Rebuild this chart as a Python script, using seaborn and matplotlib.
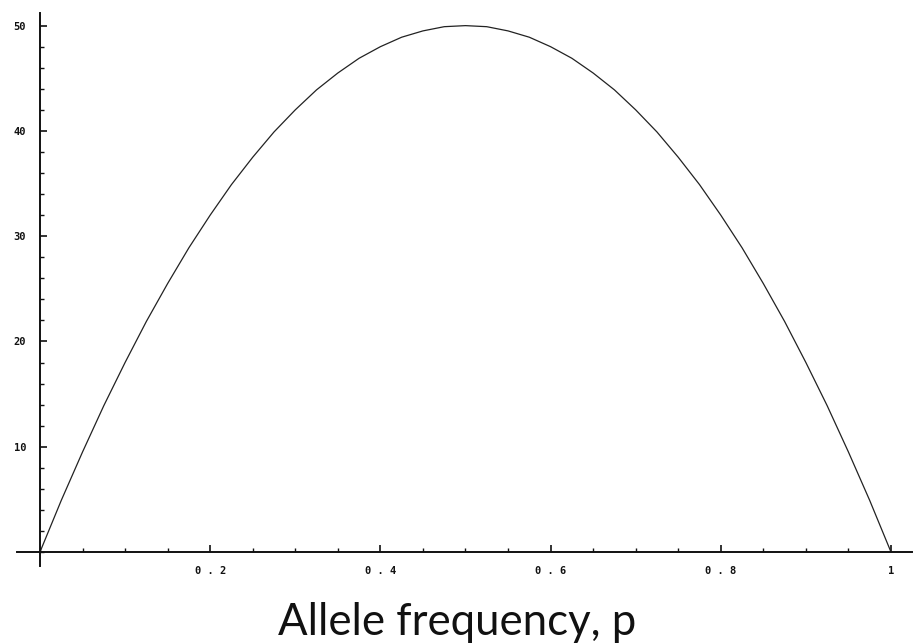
import matplotlib
matplotlib.use("Agg")
import matplotlib.pyplot as plt
import seaborn as sns
import pandas as pd
from matplotlib.ticker import MultipleLocator

# values
allele_freq = [0.0, 0.025, 0.05, 0.075, 0.10, 0.125, 0.15, 0.175, 0.20, 0.225,
               0.25, 0.275, 0.30, 0.325, 0.35, 0.375, 0.40, 0.425, 0.45, 0.475,
               0.50, 0.525, 0.55, 0.575, 0.60, 0.625, 0.65, 0.675, 0.70, 0.725,
               0.75, 0.775, 0.80, 0.825, 0.85, 0.875, 0.90, 0.925, 0.95, 0.975, 1.0]
y_values = [0.0, 4.9, 9.5, 13.9, 18.0, 21.9, 25.5, 28.9, 32.0, 34.9,
            37.5, 39.9, 42.0, 43.9, 45.5, 46.9, 48.0, 48.9, 49.5, 49.9,
            50.0, 49.9, 49.5, 48.9, 48.0, 46.9, 45.5, 43.9, 42.0, 39.9,
            37.5, 34.9, 32.0, 28.9, 25.5, 21.9, 18.0, 13.9, 9.5, 4.9, 0.0]
x_ticks = [0.2, 0.4, 0.6, 0.8, 1.0]
x_tick_labels = ["0.2", "0.4", "0.6", "0.8", "1"]
y_ticks = [10, 20, 30, 40, 50]

df = pd.DataFrame({"p": allele_freq, "y": y_values})

sns.set_style("white")
fig = plt.figure(figsize=(9.15, 6.44), dpi=100)
ax = fig.add_axes([17 / 915, 78 / 644, 895 / 915, 553 / 644])

sns.lineplot(data=df, x="p", y="y", ax=ax, color="#222222", linewidth=0.9)

ax.set_xlim(-0.027, 1.0247)
ax.set_ylim(-1.33, 51.2)

# Mathematica-like axes crossing at origin
ax.spines["left"].set_position(("data", 0))
ax.spines["bottom"].set_position(("data", 0))
ax.spines["top"].set_visible(False)
ax.spines["right"].set_visible(False)
for s in ("left", "bottom"):
    ax.spines[s].set_linewidth(1.4)
    ax.spines[s].set_color("#111111")

ax.set_xticks(x_ticks)
ax.set_xticklabels([" . ".join(t.split(".")) if "." in t else t for t in x_tick_labels])
ax.set_yticks(y_ticks)
ax.xaxis.set_minor_locator(MultipleLocator(0.05))
ax.yaxis.set_minor_locator(MultipleLocator(2))
ax.tick_params(axis="both", which="both", bottom=True, left=True)
ax.tick_params(axis="both", which="major", direction="in", length=5, width=1.2,
               labelsize=7.5, colors="#111111", pad=10)
ax.tick_params(axis="both", which="minor", direction="in", length=3, width=1.0,
               colors="#111111")
for lab in ax.get_xticklabels() + ax.get_yticklabels():
    lab.set_fontfamily("DejaVu Sans Mono")
    lab.set_fontweight("bold")
ax.set_xlabel("")
ax.set_ylabel("")

fig.text(457, 644 - 635, "Allele frequency, p", fontsize=31.5, family="Lato",
         color="#111111", ha="center", va="baseline", transform=None)

fig.savefig("out.png", dpi=100)
